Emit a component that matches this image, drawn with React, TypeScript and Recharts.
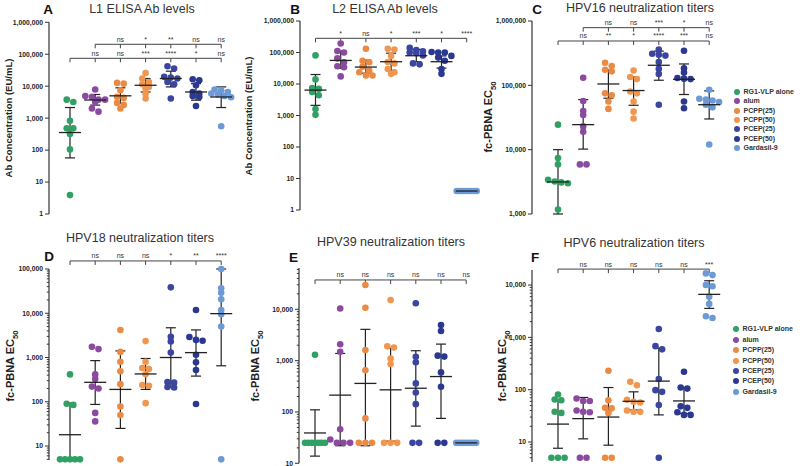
import React from 'react';
import { ScatterChart, Scatter, XAxis, YAxis, ErrorBar, ReferenceLine, ReferenceDot } from 'recharts';

const FONT = '"Liberation Sans", Arial, Helvetica, sans-serif';
const GROUPS = ['RG1-VLP alone', 'alum', 'PCPP(25)', 'PCPP(50)', 'PCEP(25)', 'PCEP(50)', 'Gardasil-9'];
const COLORS = ['#30a163', '#8a4a9f', '#eb8a43', '#f0964f', '#3a45a0', '#2b3890', '#6b9ad6'];

// ---- Panel A: L1 ELISA (EU/mL)
const A_POINTS = [
  [3800, 3200, 830, 480, 480, 320, 105, 3.9],
  [7900, 4900, 4600, 3800, 3800, 3200, 2000, 1600],
  [12700, 12000, 7500, 4700, 4300, 3000, 2600, 2000],
  [26000, 17400, 13600, 11500, 9500, 8500, 5900, 4100],
  [42000, 36000, 19600, 18700, 17400, 13600, 11500, 4100],
  [16500, 15400, 10700, 6600, 5900, 4900, 4600, 2400],
  [7900, 7500, 6600, 5900, 5500, 4900, 4500, 560],
];
const A_MEAN = [355, 3700, 5000, 10700, 17400, 6600, 4600];
const A_LOW = [57, 2560, 2900, 6600, 9500, 3650, 2150];
const A_HIGH = [2150, 5500, 8900, 17400, 29500, 12000, 9500];
const A_SIG_ALUM = ['', '', 'ns', '*', '**', 'ns', 'ns'];
const A_SIG_VLP = ['', 'ns', 'ns', '***', '****', '*', 'ns'];

// ---- Panel B: L2 ELISA (EU/mL)
const B_POINTS = [
  [81000, 14000, 7500, 7000, 5600, 4400, 1600, 1050],
  [193000, 112000, 100000, 65000, 49000, 36600, 34000, 17400],
  [132000, 55000, 49000, 35600, 26700, 23700, 18600, 18600],
  [132000, 125000, 78000, 50000, 45000, 30000, 23700, 21000],
  [140000, 120000, 110000, 100000, 95000, 80000, 45000, 42000],
  [104000, 100000, 100000, 78000, 69000, 55000, 30000, 21000],
  [4, 4, 4, 4, 4, 4, 4, 4],
];
const B_MEAN = [6400, 56000, 34500, 51000, 79000, 51000, 4];
const B_LOW = [2100, 31700, 22000, 27000, 51000, 32000, 4];
const B_HIGH = [20000, 112000, 57000, 95000, 125000, 78000, 4];
const B_SIG_VLP = ['', '*', 'ns', '*', '***', '*', '****'];

// ---- Panel C: HPV16 neutralization
const C_POINTS = [
  [24500, 7400, 5900, 3400, 3200, 3100, 3000, 1170],
  [131000, 57000, 40000, 34500, 23000, 19000, 5900, 5900],
  [225000, 200000, 175000, 165000, 75000, 70000, 56000, 43000],
  [170000, 135000, 125000, 80000, 75000, 56000, 39000, 30500],
  [360000, 310000, 300000, 290000, 230000, 180000, 150000, 50000],
  [345000, 184000, 158000, 130000, 127000, 125000, 56000, 44000],
  [85000, 62000, 60000, 58000, 55000, 50000, 45500, 12000],
];
const C_MEAN = [3150, 24500, 105000, 83000, 205000, 124000, 50000];
const C_LOW = [1000, 10200, 63000, 49000, 120000, 72000, 30000];
const C_HIGH = [10000, 60000, 173000, 135000, 340000, 215000, 82000];
const C_SIG_ALUM = ['', '', 'ns', 'ns', '***', '*', 'ns'];
const C_SIG_VLP = ['', 'ns', '**', '*', '****', '***', 'ns'];

// ---- Panel D: HPV18 neutralization
const D_POINTS = [
  [415, 90, 85, 5, 5, 5, 5, 5],
  [1740, 1550, 415, 325, 220, 200, 56, 36],
  [4200, 1340, 800, 490, 250, 78, 50, 5],
  [2350, 800, 580, 550, 420, 240, 230, 93],
  [38500, 2940, 2300, 1290, 280, 270, 215, 210],
  [11800, 2900, 2500, 2400, 1150, 780, 520, 89],
  [100000, 36700, 29000, 20700, 11800, 9500, 5000, 5],
];
const D_MEAN = [18, 275, 190, 425, 1000, 1290, 9800];
const D_LOW = [4.83, 87, 25, 190, 218, 380, 650];
const D_HIGH = [93, 850, 1410, 950, 4700, 4200, 100000];
const D_SIG_VLP = ['', 'ns', 'ns', 'ns', '*', '**', '****'];

// ---- Panel E: HPV39 neutralization
const E_POINTS = [
  [1300, 25, 25, 25, 25, 25, 25, 25],
  [10400, 2080, 1490, 46, 29, 25, 25, 25],
  [29800, 10700, 1610, 650, 75, 25, 25, 25],
  [15200, 1900, 1800, 1100, 860, 25, 25, 25],
  [13100, 1190, 930, 360, 240, 142, 25, 25],
  [4940, 3770, 1250, 1200, 590, 310, 25, 25],
  [25, 25, 25, 25, 25, 25, 25, 25],
];
const E_MEAN = [39, 213, 360, 270, 290, 490, 25];
const E_LOW = [13.8, 22, 22, 27, 53, 75, 25];
const E_HIGH = [110, 1380, 4070, 1740, 1560, 2100, 25];
const E_SIG_VLP = ['', 'ns', 'ns', 'ns', 'ns', 'ns', 'ns'];

// ---- Panel F: HPV6 neutralization
const F_POINTS = [
  [81, 65, 63, 38, 36, 5, 5, 5],
  [68, 61, 61, 40, 38, 37, 5, 5],
  [230, 63, 45, 44, 36, 5, 5],
  [142, 122, 64, 59, 57, 40, 38, 38],
  [1450, 680, 590, 160, 98, 91, 51, 5],
  [220, 110, 105, 48, 45, 37, 33, 33],
  [16700, 15500, 10000, 9500, 6000, 4360, 2540, 2340],
];
const F_MEAN = [22, 28, 30, 60, 146, 61, 6640];
const F_LOW = [7.6, 11.5, 8.7, 41, 33, 35, 3580];
const F_HIGH = [63, 71, 110, 91, 620, 110, 12100];
const F_SIG_VLP = ['', 'ns', 'ns', 'ns', 'ns', 'ns', '***'];

const MAJOR_6 = [1, 10, 100, 1000, 10000, 100000, 1000000];
const MAJOR_C = [1000, 10000, 100000, 1000000];
const MAJOR_DEF = [10, 100, 1000, 10000, 100000];
const MINOR_MULT = [2, 3, 4, 5, 6, 7, 8, 9];

type Bracket = { level: number; from: number; labels: string[] };
type Spec = {
  points: number[][];
  mean: number[];
  low: number[];
  high: number[];
  xLeft: number;
  xRight: number;
  yTop: number;
  yBottom: number;
  firstCat: number;
  catStep: number;
  domain: [number, number];
  majors: number[];
  minor: boolean;
  brackets: Bracket[];
};

function minorTicks(domain: [number, number]): number[] {
  const out: number[] = [];
  for (let e = -1; e <= 6; e++) {
    const base = Math.pow(10, e);
    for (const m of MINOR_MULT) {
      const v = m * base;
      if (v >= domain[0] && v <= domain[1]) out.push(v);
    }
  }
  return out;
}

function swarmOffsets(vals: number[], ppd: number, step: number): number[] {
  const D = 6.6;
  const MAXHALF = 10;
  const order = vals.map((_, i) => i).sort((a, b) => vals[b] - vals[a]);
  const offs = new Array(vals.length).fill(0);
  let row: number[] = [];
  let rowY = 0;
  const flush = () => {
    const n = row.length;
    const gap = n > 1 ? Math.min(D, (2 * MAXHALF) / (n - 1)) : 0;
    row.forEach((idx, j) => {
      offs[idx] = ((j - (n - 1) / 2) * gap) / step;
    });
  };
  for (const i of order) {
    const y = -Math.log10(vals[i]) * ppd;
    if (row.length && Math.abs(y - rowY) < D * 0.6) row.push(i);
    else {
      if (row.length) flush();
      row = [i];
      rowY = y;
    }
  }
  if (row.length) flush();
  return offs;
}

const fmt = (v: number) => Math.round(v).toLocaleString('en-US');

const TS = 4;
const TM = 2;

function Panel({ spec }: { spec: Spec }) {
  const yw = 44;
  const margin = {
    top: spec.yTop,
    bottom: 466 - spec.yBottom,
    left: spec.xLeft - yw,
    right: 800 - spec.xRight,
  };
  const ppd = (spec.yBottom - spec.yTop) / (Math.log10(spec.domain[1]) - Math.log10(spec.domain[0]));
  const xDomain: [number, number] = [
    (spec.xLeft - spec.firstCat) / spec.catStep,
    (spec.xRight - spec.firstCat) / spec.catStep,
  ];
  const ticks = [...spec.majors, ...(spec.minor ? minorTicks(spec.domain) : [])].sort((a, b) => a - b);
  const groups = spec.points.map((vals, g) => {
    const offs = swarmOffsets(vals, ppd, spec.catStep);
    return vals.map((v, i) => ({ x: g + offs[i], y: v }));
  });
  const summary = spec.mean.map((m, g) => ({ x: g, y: m, err: [m - spec.low[g], spec.high[g] - m] }));

  const YTick = (props: any) => {
    const { x, y, payload } = props;
    const v = payload.value;
    const major = spec.majors.some((m) => Math.abs(m - v) / m < 1e-6);
    const ax = x + TS + TM;
    return (
      <g>
        <line x1={ax} x2={ax - (major ? 4 : 2.2)} y1={y} y2={y} stroke="#333" strokeWidth={1} />
        {major && (
          <text x={ax - 6} y={y} dy="0.35em" textAnchor="end" fontSize={6.8} fontWeight="bold" fill="#222" fontFamily={FONT}>
            {fmt(v)}
          </text>
        )}
      </g>
    );
  };

  const refs: React.ReactNode[] = [];
  spec.brackets.forEach((b, bi) => {
    const tickEnd = b.level * Math.pow(10, -4 / ppd);
    refs.push(
      <ReferenceLine
        key={`bh${bi}`}
        segment={[{ x: b.from, y: b.level }, { x: 6, y: b.level }]}
        stroke="#444"
        strokeWidth={1}
        ifOverflow="visible"
      />
    );
    for (let k = b.from; k <= 6; k++) {
      refs.push(
        <ReferenceLine
          key={`bt${bi}-${k}`}
          segment={[{ x: k, y: b.level }, { x: k, y: tickEnd }]}
          stroke="#444"
          strokeWidth={1}
          ifOverflow="visible"
        />
      );
      const s = b.labels[k];
      if (s) {
        refs.push(
          <ReferenceDot
            key={`bl${bi}-${k}`}
            x={k}
            y={b.level}
            r={1}
            ifOverflow="visible"
            shape={(p: any) => (
              <text
                x={p.cx}
                y={p.cy - 2.5}
                textAnchor="middle"
                fontSize={7}
                fill="#333"
                stroke="none"
                fontFamily={FONT}
              >
                {s}
              </text>
            )}
          />
        );
      }
    }
  });

  return (
    <div style={{ position: 'absolute', left: 0, top: 0 }}>
      <ScatterChart width={800} height={466} margin={margin}>
        <XAxis
          type="number"
          dataKey="x"
          domain={xDomain}
          tick={false}
          tickLine={false}
          height={0}
          axisLine={{ stroke: '#333', strokeWidth: 1.2 }}
        />
        <YAxis
          type="number"
          dataKey="y"
          scale="log"
          domain={spec.domain}
          ticks={ticks}
          interval={0}
          width={yw}
          tickSize={TS}
          tickMargin={TM}
          tickLine={false}
          tick={<YTick />}
          axisLine={{ stroke: '#333', strokeWidth: 1.2 }}
        />
        {groups.map((d, g) => (
          <Scatter
            key={g}
            data={d}
            fill={COLORS[g]}
            isAnimationActive={false}
            shape={(p: any) => <circle cx={p.cx} cy={p.cy} r={3.3} fill={COLORS[g]} />}
          />
        ))}
        <Scatter
          data={summary}
          isAnimationActive={false}
          fill="#222"
          shape={(p: any) => (
            <line x1={p.cx - 11} x2={p.cx + 11} y1={p.cy} y2={p.cy} stroke="#222" strokeWidth={1.3} />
          )}
        >
          <ErrorBar dataKey="err" direction="y" width={5} stroke="#222" strokeWidth={1.2} />
        </Scatter>
        {refs}
      </ScatterChart>
    </div>
  );
}

const SPECS: Spec[] = [
  {
    points: A_POINTS, mean: A_MEAN, low: A_LOW, high: A_HIGH,
    xLeft: 49, xRight: 243, yTop: 22.3, yBottom: 214, firstCat: 70, catStep: 25.2,
    domain: [1, 1000000], majors: MAJOR_6, minor: false,
    brackets: [
      { level: 205000, from: 1, labels: A_SIG_ALUM },
      { level: 74700, from: 0, labels: A_SIG_VLP },
    ],
  },
  {
    points: B_POINTS, mean: B_MEAN, low: B_LOW, high: B_HIGH,
    xLeft: 300, xRight: 478, yTop: 21, yBottom: 210, firstCat: 315.5, catStep: 25.2,
    domain: [1, 1000000], majors: MAJOR_6, minor: false,
    brackets: [{ level: 282000, from: 0, labels: B_SIG_VLP }],
  },
  {
    points: C_POINTS, mean: C_MEAN, low: C_LOW, high: C_HIGH,
    xLeft: 532, xRight: 732, yTop: 21, yBottom: 214, firstCat: 558, catStep: 25.2,
    domain: [1000, 1000000], majors: MAJOR_C, minor: false,
    brackets: [
      { level: 788000, from: 1, labels: C_SIG_ALUM },
      { level: 489000, from: 0, labels: C_SIG_VLP },
    ],
  },
  {
    points: D_POINTS, mean: D_MEAN, low: D_LOW, high: D_HIGH,
    xLeft: 49, xRight: 243, yTop: 269, yBottom: 460, firstCat: 70, catStep: 25.2,
    domain: [4.83, 100000], majors: MAJOR_DEF, minor: true,
    brackets: [{ level: 152000, from: 0, labels: D_SIG_VLP }],
  },
  {
    points: E_POINTS, mean: E_MEAN, low: E_LOW, high: E_HIGH,
    xLeft: 299, xRight: 488, yTop: 268, yBottom: 463.3, firstCat: 315, catStep: 25.2,
    domain: [10, 63800], majors: [10, 100, 1000, 10000], minor: true,
    brackets: [{ level: 37300, from: 0, labels: E_SIG_VLP }],
  },
  {
    points: F_POINTS, mean: F_MEAN, low: F_LOW, high: F_HIGH,
    xLeft: 532, xRight: 732, yTop: 270, yBottom: 462, firstCat: 558, catStep: 25.2,
    domain: [4.15, 19400], majors: [10, 100, 1000, 10000], minor: true,
    brackets: [{ level: 20200, from: 0, labels: F_SIG_VLP }],
  },
];

const TITLES = [
  { text: 'L1 ELISA Ab levels', x: 142, y: 9 },
  { text: 'L2 ELISA Ab levels', x: 385, y: 9 },
  { text: 'HPV16 neutralization titers', x: 640, y: 8 },
  { text: 'HPV18 neutralization titers', x: 140, y: 238 },
  { text: 'HPV39 neutralization titers', x: 391, y: 241.5 },
  { text: 'HPV6 neutralization titers', x: 634, y: 243 },
];
const LETTERS = [
  { text: 'A', x: 48, y: 10 },
  { text: 'B', x: 295, y: 10 },
  { text: 'C', x: 537, y: 10 },
  { text: 'D', x: 49, y: 257 },
  { text: 'E', x: 293.5, y: 258 },
  { text: 'F', x: 535, y: 258 },
];
const YLABELS = [
  { text: 'Ab Concentration (EU/mL)', sub: '', x: 9, y: 118, size: 9.5 },
  { text: 'Ab Concentration (EU/mL)', sub: '', x: 249, y: 116, size: 9.5 },
  { text: 'fc-PBNA EC', sub: '50', x: 491, y: 117, size: 11 },
  { text: 'fc-PBNA EC', sub: '50', x: 13, y: 366, size: 11 },
  { text: 'fc-PBNA EC', sub: '50', x: 258, y: 366, size: 11 },
  { text: 'fc-PBNA EC', sub: '50', x: 505, y: 366, size: 11 },
];
const LEGENDS = [
  { dotX: 737, textX: 743.5, y0: 91.7, dy: 9.4 },
  { dotX: 736, textX: 742.5, y0: 329.3, dy: 10.4 },
];

export default function App() {
  return (
    <div style={{ position: 'absolute', left: 0, top: 0, width: 800, height: 466, background: '#fff', overflow: 'hidden', fontFamily: FONT }}>
      {SPECS.map((s, i) => (
        <Panel key={i} spec={s} />
      ))}
      {TITLES.map((t, i) => (
        <div key={`t${i}`} style={{ position: 'absolute', left: t.x - 110, top: t.y - 8, width: 220, textAlign: 'center', fontSize: 12.5, lineHeight: '16px', color: '#333' }}>
          {t.text}
        </div>
      ))}
      {LETTERS.map((t, i) => (
        <div key={`l${i}`} style={{ position: 'absolute', left: t.x - 10, top: t.y - 9, width: 20, textAlign: 'center', fontSize: 13.5, lineHeight: '18px', fontWeight: 'bold', color: '#111' }}>
          {t.text}
        </div>
      ))}
      {YLABELS.map((t, i) => (
        <div
          key={`y${i}`}
          style={{
            position: 'absolute',
            left: t.x,
            top: t.y,
            transform: 'translate(-50%, -50%) rotate(-90deg)',
            whiteSpace: 'nowrap',
            fontSize: t.size,
            fontWeight: 'bold',
            color: '#222',
            lineHeight: '14px',
          }}
        >
          {t.text}
          {t.sub && <sub style={{ fontSize: t.size * 0.7 }}>{t.sub}</sub>}
        </div>
      ))}
      {LEGENDS.map((lg, li) =>
        GROUPS.map((g, i) => (
          <React.Fragment key={`lg${li}-${i}`}>
            <div
              style={{
                position: 'absolute',
                left: lg.dotX - 3,
                top: lg.y0 + i * lg.dy - 3,
                width: 6,
                height: 6,
                borderRadius: 3,
                background: COLORS[i],
              }}
            />
            <div
              style={{
                position: 'absolute',
                left: lg.textX,
                top: lg.y0 + i * lg.dy - 5,
                fontSize: 7,
                lineHeight: '10px',
                fontWeight: 'bold',
                color: '#333',
                whiteSpace: 'nowrap',
              }}
            >
              {g}
            </div>
          </React.Fragment>
        ))
      )}
    </div>
  );
}
